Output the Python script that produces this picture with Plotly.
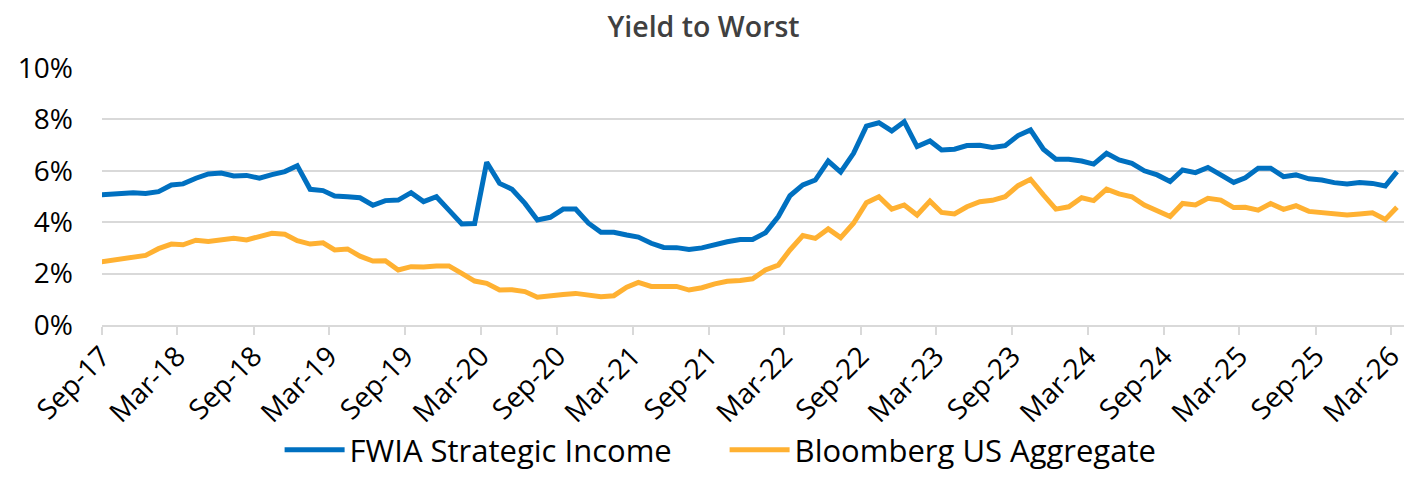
import pandas as pd
import plotly.graph_objects as go

# Monthly observations (mid-month), Aug-17 .. Mar-26 (first point falls just before the axis start)
months = pd.date_range(start="2017-08-01", end="2026-03-01", freq="MS") + pd.Timedelta(days=14)

fwia_strategic_income = [
    5.05,
    5.08, 5.11, 5.15, 5.12, 5.19, 5.45, 5.49, 5.71, 5.88, 5.91, 5.80, 5.82,
    5.71, 5.85, 5.97, 6.20, 5.28, 5.23, 5.02, 4.99, 4.95, 4.66, 4.84, 4.86,
    5.15, 4.80, 4.99, 4.47, 3.93, 3.95, 6.33, 5.51, 5.28, 4.73, 4.09, 4.19,
    4.51, 4.51, 3.96, 3.61, 3.61, 3.50, 3.42, 3.18, 3.02, 3.01, 2.94, 3.00,
    3.14, 3.24, 3.33, 3.33, 3.59, 4.22, 5.03, 5.45, 5.64, 6.38, 5.95, 6.68,
    7.74, 7.87, 7.55, 7.91, 6.94, 7.16, 6.81, 6.84, 6.98, 6.99, 6.91, 6.98,
    7.37, 7.59, 6.84, 6.45, 6.45, 6.38, 6.26, 6.68, 6.42, 6.29, 6.00, 5.84,
    5.58, 6.03, 5.93, 6.13, 5.84, 5.55, 5.73, 6.10, 6.10, 5.77, 5.84, 5.69,
    5.64, 5.54, 5.49, 5.54, 5.51, 5.41, 5.97,
]

bloomberg_us_aggregate = [
    2.42,
    2.50, 2.59, 2.68, 2.71, 2.97, 3.15, 3.12, 3.30, 3.25, 3.31, 3.37, 3.31,
    3.46, 3.57, 3.53, 3.28, 3.15, 3.20, 2.92, 2.96, 2.68, 2.49, 2.50, 2.14,
    2.27, 2.26, 2.30, 2.30, 2.01, 1.71, 1.62, 1.36, 1.37, 1.30, 1.08, 1.15,
    1.19, 1.23, 1.14, 1.10, 1.14, 1.47, 1.66, 1.50, 1.50, 1.50, 1.36, 1.45,
    1.60, 1.70, 1.73, 1.80, 2.14, 2.33, 2.92, 3.48, 3.37, 3.74, 3.40, 3.96,
    4.76, 4.99, 4.51, 4.67, 4.28, 4.82, 4.38, 4.32, 4.60, 4.80, 4.85, 4.99,
    5.42, 5.67, 5.06, 4.51, 4.60, 4.95, 4.84, 5.29, 5.10, 4.99, 4.67, 4.44,
    4.22, 4.73, 4.67, 4.93, 4.86, 4.57, 4.58, 4.47, 4.73, 4.50, 4.64, 4.42,
    4.37, 4.35, 4.28, 4.32, 4.37, 4.11, 4.58,
]

series_names = ["FWIA Strategic Income", "Bloomberg US Aggregate"]
series_colors = ["#0070C0", "#FFB132"]

FONT = "Open Sans"

fig = go.Figure()
for name, vals, col in zip(series_names, [fwia_strategic_income, bloomberg_us_aggregate], series_colors):
    fig.add_trace(go.Scatter(
        x=months, y=vals, name=name, mode="lines",
        line=dict(color=col, width=5, shape="linear"),
        hoverinfo="x+y+name",
    ))

fig.update_layout(
    width=1407, height=477,
    paper_bgcolor="white", plot_bgcolor="white",
    margin=dict(l=102, r=3, t=68, b=152, autoexpand=False),
    font=dict(family=FONT, color="#000000", size=29),
    title=dict(text="Yield to Worst", x=0.5, xanchor="center", xref="container",
               y=0.943, yanchor="middle", yref="container",
               font=dict(family=FONT, size=28.5, color="#404040", weight=600)),
    showlegend=True,
    legend=dict(orientation="h", xref="container", x=0.515, xanchor="center",
                yref="container", y=-0.012, yanchor="bottom",
                font=dict(family=FONT, size=31, color="#000000"),
                itemwidth=60, entrywidth=370, entrywidthmode="pixels",
                traceorder="normal", bgcolor="rgba(0,0,0,0)", borderwidth=0),
)

fig.update_xaxes(
    type="date", automargin=False,
    range=["2017-09-01", "2026-04-01"],
    tick0="2017-09-01", dtick="M6", tickformat="%b-%y",
    tickangle=-45,
    ticks="outside", ticklen=8, tickwidth=1.5, tickcolor="#D9D9D9",
    ticklabelstandoff=-6,
    showline=True, linecolor="#D9D9D9", linewidth=1.5,
    showgrid=False, zeroline=False,
    tickfont=dict(family=FONT, size=28, color="#000000"),
)

fig.update_yaxes(
    automargin=False,
    range=[0, 10], dtick=2, tick0=0, ticksuffix="%",
    showgrid=True, gridcolor="#D9D9D9", gridwidth=1.5,
    zeroline=False, showline=False, ticks="",
    ticklabelstandoff=28,
    tickfont=dict(family=FONT, size=28, color="#000000"),
)

fig.write_html(
    "out.html",
    config={"displayModeBar": False},
    post_script="document.body.style.margin='0';document.body.style.overflow='hidden';",
)
